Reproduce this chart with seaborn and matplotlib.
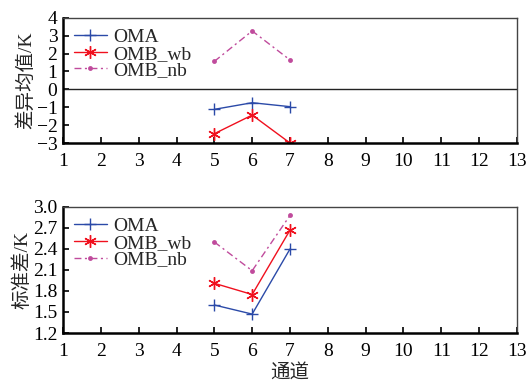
import matplotlib
matplotlib.use("Agg")
import matplotlib.pyplot as plt
import seaborn as sns
import pandas as pd

channels = [5, 6, 7]
series_names = ["OMA", "OMB_wb", "OMB_nb"]
mean_oma = [-1.12, -0.75, -0.97]
mean_wb = [-2.48, -1.44, -3.0]
mean_nb = [1.56, 3.26, 1.64]
std_oma = [1.60, 1.47, 2.40]
std_wb = [1.91, 1.75, 2.67]
std_nb = [2.50, 2.09, 2.88]
xticks = list(range(1, 14))
top_yticks = [-3, -2, -1, 0, 1, 2, 3, 4]
bot_yticks = [1.2, 1.5, 1.8, 2.1, 2.4, 2.7, 3.0]

sns.set_theme(style="white")
plt.rcParams['font.family'] = ['Liberation Serif', 'Noto Sans CJK SC']

def make_df(a, b, c):
    rows = []
    for name, vals in zip(series_names, [a, b, c]):
        for ch, v in zip(channels, vals):
            rows.append({"ch": ch, "val": v, "series": name})
    return pd.DataFrame(rows)

colors = {"OMA": "#2b4aa8", "OMB_wb": "#f0101e", "OMB_nb": "#c04b9c"}
styles = {"OMA": dict(marker="+", ls="-", ms=9, mew=1.0),
          "OMB_wb": dict(marker=(6, 2, 0), ls="-", ms=9, mew=1.0),
          "OMB_nb": dict(marker="o", ls=(0, (5, 2.5, 1.5, 2.5)), ms=3.5, mew=0)}

fig = plt.figure(figsize=(5.26, 3.85), dpi=100)
ax1 = fig.add_axes([63/526, 1-143/385, (517-63)/526, (143-17.7)/385])
ax2 = fig.add_axes([63/526, 1-333/385, (517-63)/526, (333-207)/385])

for ax, df, yt, ylab in [(ax1, make_df(mean_oma, mean_wb, mean_nb), top_yticks, "差异均值/K"),
                         (ax2, make_df(std_oma, std_wb, std_nb), bot_yticks, "标准差/K")]:
    for name in series_names:
        sub = df[df.series == name]
        st = styles[name]
        sns.lineplot(data=sub, x="ch", y="val", ax=ax, color=colors[name],
                     marker=st["marker"], linestyle=st["ls"], markersize=st["ms"],
                     markeredgewidth=st["mew"], markeredgecolor=colors[name],
                     linewidth=1.0, label=name)
    ax.set_xlim(1, 13)
    ax.set_ylim(yt[0], yt[-1])
    ax.set_xticks(xticks)
    ax.set_yticks(yt)
    if ax is ax2:
        ax.set_yticklabels([f"{v:.1f}" for v in yt])
    else:
        ax.set_yticklabels([str(v).replace("-", "\u2212") for v in yt])
    ax.set_xlabel("")
    ax.set_ylabel(ylab, fontsize=14, labelpad=1)
    ax.tick_params(direction="in", length=4, width=1.2, labelsize=14,
                   bottom=True, left=True, top=False, right=False, colors="black")
    ax.tick_params(axis="x", pad=7)
    ax.tick_params(axis="y", pad=4)
    for s in ["left", "bottom"]:
        ax.spines[s].set_linewidth(1.8)
        ax.spines[s].set_color("black")
    for s in ["top", "right"]:
        ax.spines[s].set_linewidth(1.0)
        ax.spines[s].set_color("#444444")
    ax.legend(loc="upper left", frameon=False, fontsize=14, handlelength=1.7,
              handletextpad=0.35, labelspacing=-0.05, borderaxespad=0.25,
              borderpad=0.3)

ax1.axhline(0, color="#222222", lw=1.0)
ax2.set_xlabel("通道", fontsize=14, labelpad=3)

fig.savefig("out.png", dpi=100)
